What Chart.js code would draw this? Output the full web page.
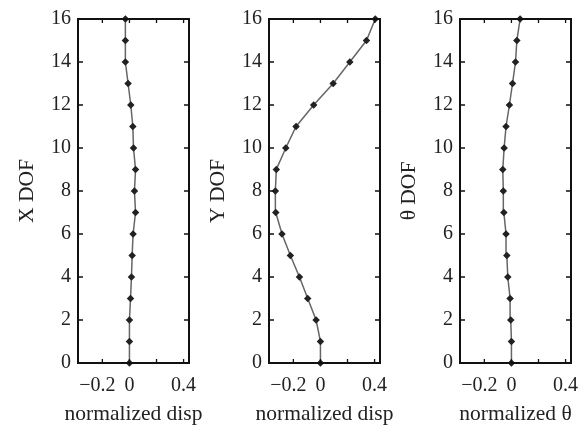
<!DOCTYPE html>
<html>
<head>
<meta charset="utf-8">
<script src="https://cdn.jsdelivr.net/npm/chart.js@4/dist/chart.umd.min.js"></script>
<style>
  body { margin: 0; background: #fff; width: 581px; height: 426px; overflow: hidden; position: relative; }
  .panel { position: absolute; top: 0; width: 211px; height: 426px; }
</style>
</head>
<body>
<div class="panel" style="left:0px"><canvas id="c0" width="211" height="426"></canvas></div>
<div class="panel" style="left:191px"><canvas id="c1" width="211" height="426"></canvas></div>
<div class="panel" style="left:382px"><canvas id="c2" width="211" height="426"></canvas></div>
<script>
// DOF index (vertical axis)
var dofIndex = [0, 1, 2, 3, 4, 5, 6, 7, 8, 9, 10, 11, 12, 13, 14, 15, 16];
// normalized mode shape values, one per DOF
var xDisp = [0, 0, 0, 0.008, 0.015, 0.02, 0.027, 0.045, 0.037, 0.045, 0.03, 0.025, 0.01, -0.01, -0.03, -0.03, -0.03];
var yDisp = [0, 0, -0.032, -0.094, -0.155, -0.222, -0.284, -0.33, -0.333, -0.326, -0.256, -0.18, -0.05, 0.094, 0.217, 0.34, 0.405];
var thetaDisp = [0, 0, -0.005, -0.01, -0.027, -0.034, -0.04, -0.056, -0.06, -0.064, -0.054, -0.04, -0.015, 0.008, 0.03, 0.04, 0.064];

var xTickValues = [-0.2, 0, 0.2, 0.4];
var xTickLabels = ['\u22120.2\u2002', '0', '', '0.4'];
var yTitles = ['X DOF', 'Y DOF', '\u03b8 DOF'];
var xTitles = ['normalized disp', 'normalized disp', 'normalized \u03b8'];
var series = [xDisp, yDisp, thetaDisp];

var FONT = "'Liberation Serif', 'Times New Roman', serif";
Chart.defaults.font.family = FONT;
Chart.defaults.color = '#222';

// box frame + inward tick marks on all four sides, plus the x title
// (drawn here so it is not squeezed to the plot width)
var frameTicks = {
  id: 'frameTicks',
  afterDatasetsDraw: function(chart) {
    var ctx = chart.ctx, a = chart.chartArea;
    var xs = chart.scales.x, ys = chart.scales.y;
    ctx.save();
    ctx.strokeStyle = '#111';
    ctx.lineWidth = 1.3;
    ctx.beginPath();
    xs.ticks.forEach(function(t) {
      var p = xs.getPixelForValue(t.value);
      ctx.moveTo(p, a.bottom); ctx.lineTo(p, a.bottom - 4);
      ctx.moveTo(p, a.top); ctx.lineTo(p, a.top + 4);
    });
    ys.ticks.forEach(function(t) {
      var p = ys.getPixelForValue(t.value);
      ctx.moveTo(a.left, p); ctx.lineTo(a.left + 5, p);
      ctx.moveTo(a.right, p); ctx.lineTo(a.right - 5, p);
    });
    ctx.stroke();
    ctx.lineWidth = 2;
    ctx.strokeRect(a.left, a.top, a.right - a.left, a.bottom - a.top);

    ctx.fillStyle = '#222';
    ctx.font = '21.5px ' + FONT;
    ctx.textAlign = 'center';
    ctx.textBaseline = 'alphabetic';
    ctx.fillText(chart.options.xTitleText, (a.left + a.right) / 2, 420);
    ctx.restore();
  }
};

function makePanel(i) {
  var pts = dofIndex.map(function(d, k) { return { x: series[i][k], y: d }; });
  new Chart(document.getElementById('c' + i), {
    type: 'scatter',
    data: {
      datasets: [{
        data: pts,
        showLine: true,
        borderColor: '#666',
        borderWidth: 1.5,
        pointStyle: 'rectRot',
        pointRadius: 2.7,
        pointBackgroundColor: '#222',
        pointBorderColor: '#222',
        clip: false
      }]
    },
    options: {
      responsive: false,
      animation: false,
      devicePixelRatio: 1,
      xTitleText: xTitles[i],
      layout: { padding: { top: 15, right: 22, bottom: 0, left: 0 } },
      plugins: { legend: { display: false }, tooltip: { enabled: false } },
      scales: {
        x: {
          type: 'linear',
          min: -0.38,
          max: 0.44,
          grid: { display: false, drawTicks: false },
          border: { display: false },
          afterBuildTicks: function(s) { s.ticks = xTickValues.map(function(v) { return { value: v }; }); },
          afterFit: function(s) { s.height = 63; },
          ticks: {
            padding: 11,
            font: { size: 20 },
            maxRotation: 0,
            autoSkip: false,
            source: 'ticks',
            callback: function(v, idx) { return xTickLabels[idx]; }
          },
          title: { display: false }
        },
        y: {
          type: 'linear',
          min: 0,
          max: 16,
          grid: { display: false, drawTicks: false },
          border: { display: false },
          afterFit: function(s) { s.width = 78; },
          ticks: { stepSize: 2, padding: 7, font: { size: 20 } },
          title: { display: true, text: yTitles[i], font: { size: 21.5 }, padding: { top: 14, bottom: 0 } }
        }
      }
    },
    plugins: [frameTicks]
  });
}

for (var i = 0; i < 3; i++) makePanel(i);
</script>
</body>
</html>
